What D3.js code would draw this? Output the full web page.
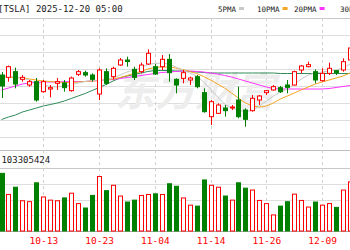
<!DOCTYPE html>
<html>
<head>
<meta charset="utf-8">
<script src="https://cdn.jsdelivr.net/npm/d3@7"></script>
<style>
  html, body { margin: 0; padding: 0; background: #fff; }
  svg { display: block; }
  text { font-family: "DejaVu Sans Mono", monospace; }
</style>
</head>
<body>
<svg id="chart" width="350" height="250"></svg>
<script>
const dates = ['10-03','10-06','10-07','10-08','10-09','10-10','10-13','10-14','10-15','10-16',
    '10-17','10-20','10-21','10-22','10-23','10-24','10-27','10-28','10-29','10-30',
    '10-31','11-03','11-04','11-05','11-06','11-07','11-10','11-11','11-12','11-13',
    '11-14','11-17','11-18','11-19','11-20','11-21','11-24','11-25','11-26','11-28',
    '12-01','12-02','12-03','12-04','12-05','12-08','12-09','12-10','12-11','12-12','12-15'];
const tickDates = ['10-13','10-23','11-04','11-14','11-26','12-09'];

// prices
const open  = [445.6,442.8,449.6,440.4,433.6,437.6,425.6,428.8,435.6,436.0,
    426.8,446.4,448.4,445.6,422.8,449.6,443.6,457.6,463.6,452.4,
    449.6,458.8,455.6,455.6,464.4,440.4,441.6,439.6,443.6,424.4,
    395.6,399.6,406.0,406.0,415.6,403.6,402.8,415.6,424.4,427.6,
    430.4,433.6,433.6,451.6,455.6,449.6,438.8,447.6,450.8,451.6,463.6];
const close = [432.4,455.6,434.8,442.8,437.6,415.6,437.6,430.4,437.6,430.4,
    442.0,449.6,445.6,440.4,451.6,435.6,453.6,463.6,461.8,442.8,
    457.6,471.6,446.8,464.4,448.4,433.6,448.4,442.0,431.6,401.6,
    413.6,409.6,402.8,407.2,395.6,392.4,417.6,420.4,426.8,431.6,
    425.6,430.8,449.6,456.4,458.0,439.6,447.6,453.6,448.4,461.6,478.0];
const high  = [449.2,456.8,454.4,445.6,439.6,442.0,439.6,433.6,442.0,439.6,
    443.6,451.6,450.8,447.6,453.6,453.6,455.6,466.0,467.6,455.6,
    460.4,476.4,458.8,469.6,470.8,441.6,451.6,443.6,445.6,429.6,
    415.6,411.6,409.6,409.6,431.6,405.6,421.6,421.6,427.6,433.6,
    432.4,439.6,450.8,457.6,461.6,452.4,453.6,460.4,450.8,465.6,481.6];
const low   = [418.0,437.6,429.6,437.6,431.6,413.6,424.4,418.8,427.6,425.6,
    425.6,444.4,443.6,437.6,415.6,433.6,440.4,456.4,455.6,439.6,
    447.6,457.6,445.6,451.6,437.6,423.6,435.6,433.6,429.6,400.4,
    385.6,398.8,395.6,403.6,393.6,383.6,401.6,409.6,421.6,426.8,
    424.0,423.6,432.8,447.6,454.8,435.6,437.6,445.6,445.6,449.6,461.2];
const vol   = [183,116,139,96,93,153,108,98,96,105,
    120,87,73,113,173,128,145,111,92,98,
    113,116,118,116,150,142,105,82,79,162,
    145,139,111,98,153,136,130,97,87,51,
    79,93,117,97,76,92,82,87,75,130,156];

const ma5  = [444.4,444.4,443.2,442.0,439.6,436.0,433.6,431.8,431.2,432.4,
    433.6,436.0,437.8,439.6,438.4,439.6,442.0,445.6,449.2,451.6,
    454.0,458.8,459.4,460.0,458.8,455.2,451.6,448.0,444.4,437.2,
    428.8,419.2,410.8,406.0,403.6,401.2,403.6,408.4,414.4,420.4,
    425.2,428.8,434.8,440.8,445.6,448.0,449.2,450.4,451.6,454.0,458.8];
const ma10 = [443.2,443.2,442.6,442.0,440.8,439.6,438.4,437.8,437.2,436.6,
    436.6,437.2,437.8,438.4,439.0,439.6,440.8,442.6,445.0,447.4,
    449.8,452.8,454.6,455.2,455.2,454.0,452.2,449.8,447.4,443.8,
    439.6,434.8,430.0,424.0,418.0,412.0,408.4,407.2,408.4,412.0,
    416.8,420.4,424.0,427.6,431.2,434.8,437.2,439.6,442.0,444.4,448.0];
const ma20 = [427.6,430.0,432.4,434.8,436.0,436.6,437.2,437.2,437.2,437.6,
    437.6,437.8,437.8,438.4,439.0,439.6,440.2,441.4,442.6,443.8,
    445.0,446.2,447.4,448.6,449.2,449.8,450.4,450.4,449.8,449.2,
    448.0,446.8,445.0,443.2,440.8,438.4,436.0,433.6,431.2,429.4,
    428.8,428.8,428.8,428.8,428.8,428.8,428.8,429.4,430.6,431.8,433.0];
const ma30 = [392.2,395.2,397.6,401.2,403.6,406.0,408.4,410.2,412.0,414.4,
    417.4,420.4,423.4,427.0,430.6,434.2,438.4,442.0,444.4,446.2,
    448.0,449.8,451.0,451.0,451.0,450.4,450.4,449.8,449.2,448.6,
    448.0,448.0,448.0,448.0,448.0,448.0,448.0,448.0,448.0,448.0,
    447.4,447.4,447.4,447.4,447.4,447.4,447.4,447.4,447.4,447.4,447.4];

const legend = [
    { label: '5PMA', color: '#c8c8c8', at: 218 },
    { label: '10PMA', color: '#f5a623', at: 257 },
    { label: '20PMA', color: '#ff33ff', at: 294 },
    { label: '30PMA', color: '#2e8b57', at: 340 }
];
const lastVolume = '103305424';

const W = 350, H = 250;
const svg = d3.select('#chart');

const mainTop = 18, mainBottom = 150, volTop = 168, volBottom = 231;

const x = d3.scalePoint().domain(dates).range([1.5, 350]);
const y = d3.scaleLinear().domain([355.6, 514]).range([mainBottom, mainTop]);
const yv = d3.scaleLinear().domain([0, 200]).range([volBottom, volTop]);

const up = '#ff0000', down = '#008000';

// horizontal grid
svg.append('g').selectAll('line')
    .data(d3.range(1, 8))
    .join('line')
    .attr('x1', 0).attr('x2', W)
    .attr('y1', k => Math.round(mainTop + k * 17) + 0.5)
    .attr('y2', k => Math.round(mainTop + k * 17) + 0.5)
    .attr('stroke', '#dedede');

svg.append('g').selectAll('line')
    .data([1, 2, 3])
    .join('line')
    .attr('x1', 0).attr('x2', W)
    .attr('y1', k => Math.round(yv(k * 50)) + 0.5)
    .attr('y2', k => Math.round(yv(k * 50)) + 0.5)
    .attr('stroke', '#dedede');

// panel borders
[[mainTop, '#c8c8c8'], [mainBottom, '#bdbdbd'], [volTop, '#c8c8c8'], [volBottom, '#a8a8a8']].forEach(([yy, c]) => {
    svg.append('line')
        .attr('x1', 0).attr('x2', W)
        .attr('y1', yy + 0.5).attr('y2', yy + 0.5)
        .attr('stroke', c);
});

// vertical dashed grid
svg.append('g').selectAll('line')
    .data(tickDates)
    .join('line')
    .attr('x1', d => Math.round(x(d)) + 0.5)
    .attr('x2', d => Math.round(x(d)) + 0.5)
    .attr('y1', mainTop)
    .attr('y2', volBottom)
    .attr('stroke', '#d0d0d0')
    .attr('stroke-dasharray', '3,3');

// watermark
svg.append('text')
    .attr('x', 195).attr('y', 106)
    .attr('text-anchor', 'middle')
    .attr('font-size', 40)
    .attr('font-weight', 'bold')
    .attr('font-style', 'italic')
    .attr('fill', '#ededed')
    .style('font-family', '"Noto Sans CJK SC", sans-serif')
    .text('东方财富');

// moving averages
const line = d3.line().x((d, i) => x(dates[i])).y(d => y(d));
[[ma30, legend[3].color], [ma20, legend[2].color], [ma10, legend[1].color], [ma5, legend[0].color]].forEach(([arr, c]) => {
    svg.append('path')
        .datum(arr)
        .attr('fill', 'none')
        .attr('stroke', c)
        .attr('stroke-width', 1)
        .attr('d', line);
});

// candles
const bw = 4;
const candles = svg.append('g').selectAll('g')
    .data(dates)
    .join('g');

candles.append('line')
    .attr('x1', d => Math.round(x(d)) + 0.5)
    .attr('x2', d => Math.round(x(d)) + 0.5)
    .attr('y1', (d, i) => y(high[i]))
    .attr('y2', (d, i) => y(low[i]))
    .attr('stroke', (d, i) => close[i] >= open[i] ? up : down);

candles.append('rect')
    .attr('x', d => Math.round(x(d)) - bw / 2 + 0.5)
    .attr('width', bw)
    .attr('y', (d, i) => y(Math.max(open[i], close[i])))
    .attr('height', (d, i) => Math.max(1, Math.abs(y(open[i]) - y(close[i]))))
    .attr('fill', (d, i) => close[i] >= open[i] ? '#fff' : down)
    .attr('stroke', (d, i) => close[i] >= open[i] ? up : down);

// volume
svg.append('g').selectAll('rect')
    .data(dates)
    .join('rect')
    .attr('x', d => Math.round(x(d)) - bw / 2 + 0.5)
    .attr('width', bw)
    .attr('y', (d, i) => yv(vol[i]))
    .attr('height', (d, i) => yv(0) - yv(vol[i]))
    .attr('fill', (d, i) => close[i] >= open[i] ? '#fff' : down)
    .attr('stroke', (d, i) => close[i] >= open[i] ? up : down);

// date axis
const xAxis = d3.axisBottom(x).tickValues(tickDates).tickSize(0).tickPadding(0);
const ax = svg.append('g')
    .attr('transform', `translate(0,${volBottom + 6})`)
    .call(xAxis);
ax.select('.domain').remove();
ax.selectAll('text')
    .attr('fill', '#ff0000')
    .attr('font-size', 9.5)
    .style('font-family', '"DejaVu Sans Mono", monospace');

// title + legend
svg.append('text')
    .attr('x', -2).attr('y', 12)
    .attr('font-size', 9)
    .attr('fill', '#222')
    .text('[TSLA] 2025-12-20 05:00');

legend.forEach(l => {
    const t = svg.append('text')
        .attr('x', l.at).attr('y', 12)
        .attr('font-size', 7.5)
        .attr('fill', '#222')
        .text(l.label);
    const w = t.node().getComputedTextLength();
    svg.append('rect')
        .attr('x', l.at + w + 3).attr('y', 7)
        .attr('width', 5).attr('height', 3)
        .attr('fill', l.color);
});

svg.append('text')
    .attr('x', -4).attr('y', 163)
    .attr('font-size', 9)
    .attr('fill', '#222')
    .text(':' + lastVolume);
</script>
</body>
</html>
